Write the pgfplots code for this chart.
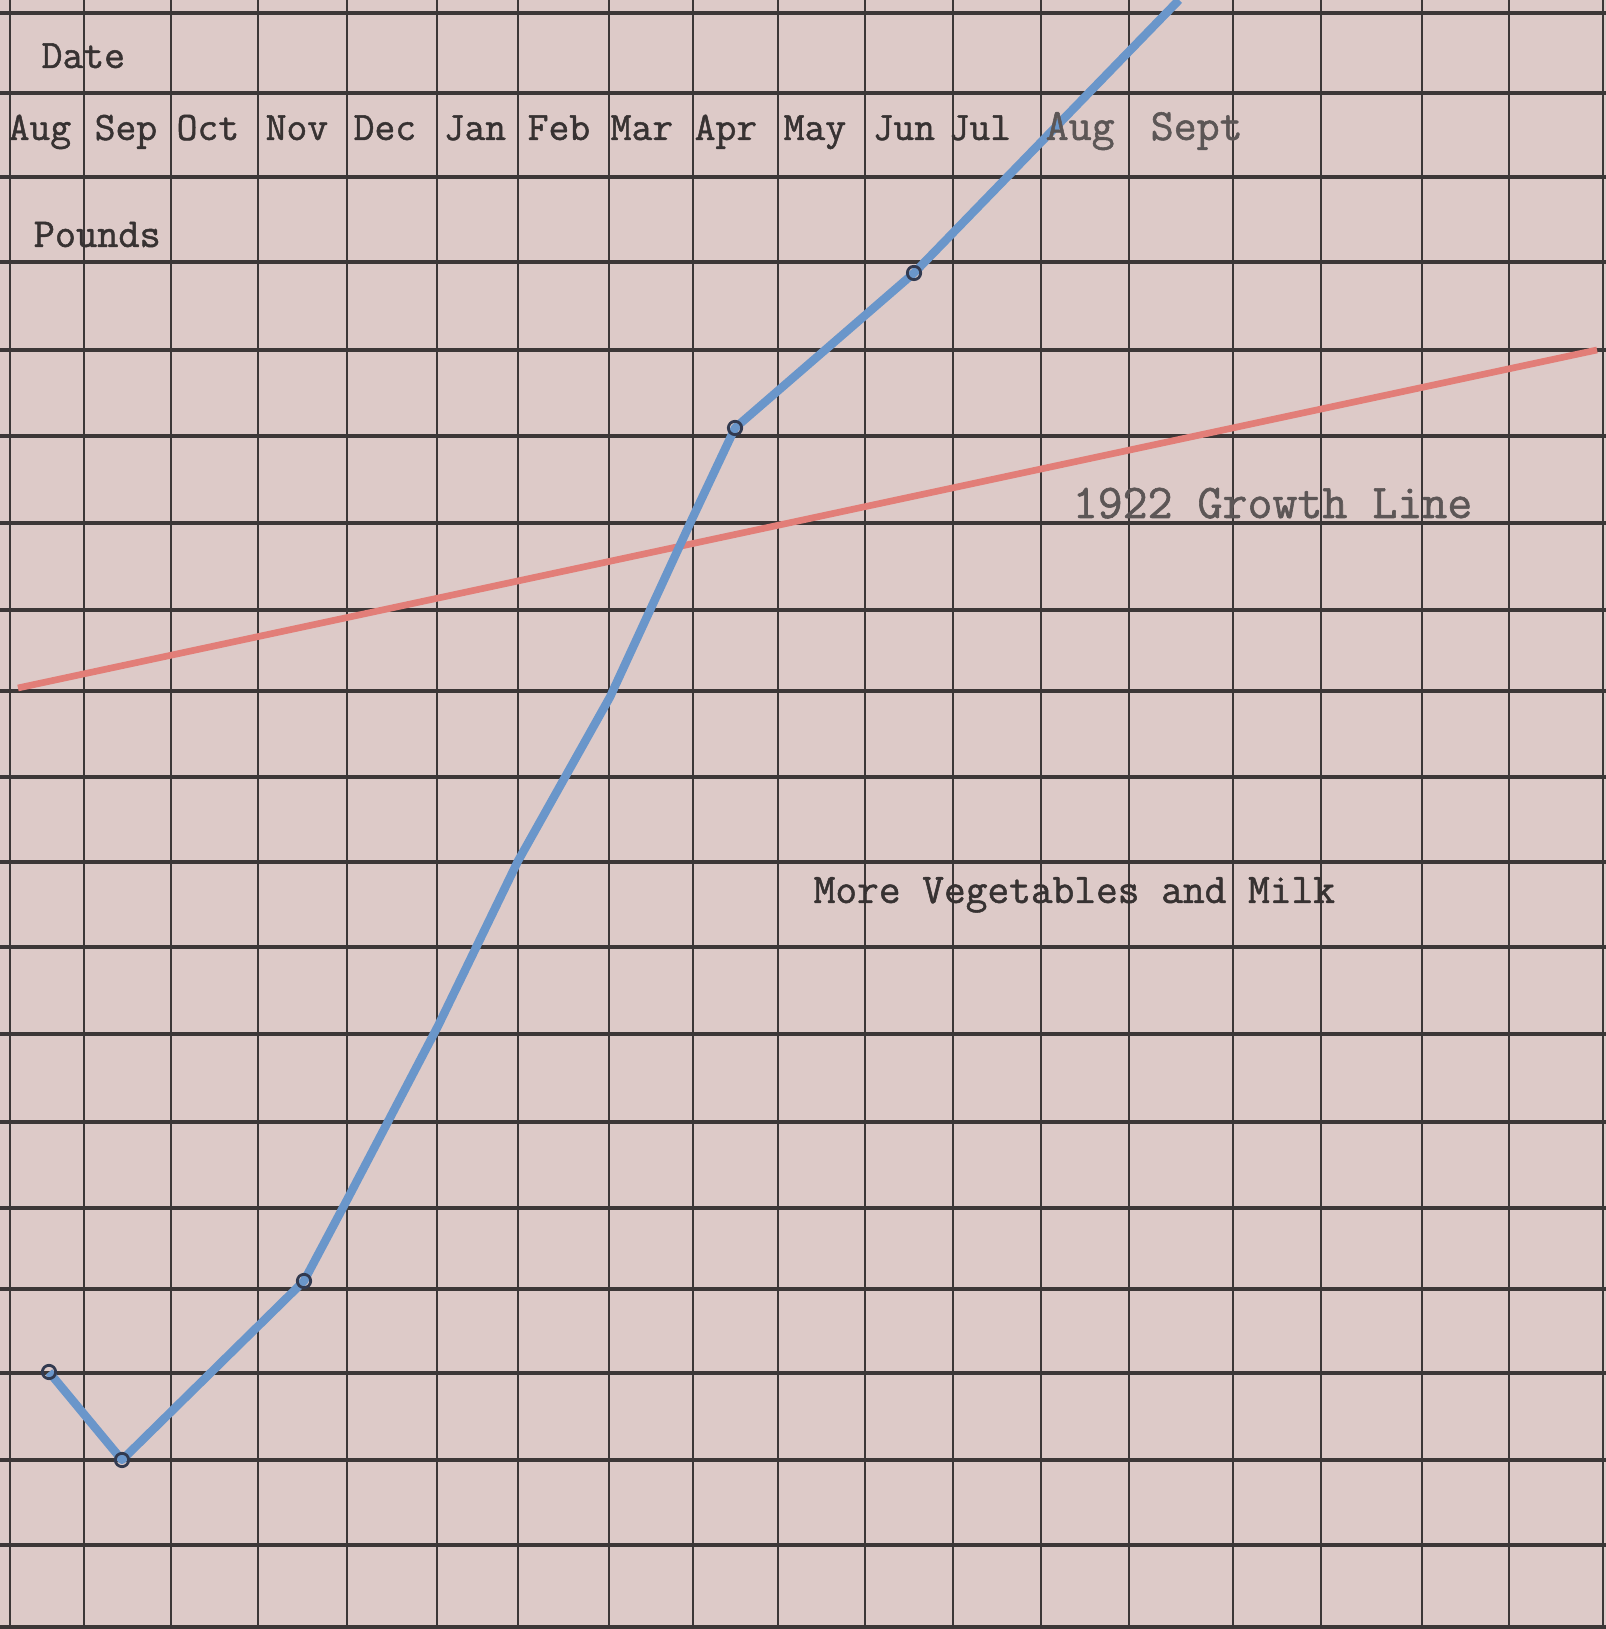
\documentclass[border=0pt]{standalone}
\usepackage{fontspec}
\usepackage{pgfplots}
\pgfplotsset{compat=1.18}
\setmonofont{Latin Modern Mono}[FakeBold=1.2]
\definecolor{paper}{RGB}{221,202,200}
\definecolor{gridc}{RGB}{60,55,55}
\definecolor{bluec}{RGB}{106,150,202}
\definecolor{redc}{RGB}{226,126,120}
\definecolor{markc}{RGB}{50,58,80}
\definecolor{txt}{RGB}{55,50,50}
\definecolor{txtl}{RGB}{92,86,86}
\begin{document}
\begin{tikzpicture}
\begin{axis}[
  width=16.06cm, height=16.29cm, scale only axis,
  xmin=0, xmax=1606, ymin=0, ymax=1629,
  axis line style={draw=none},
  tick style={draw=none},
  major tick length=0pt,
  xtick={10,84,171,258,347,437,518,609,693,778,865,953,1041,1129,1233,1321,1422,1509,1603},
  ytick={2,84,169,256,340,421,507,595,682,767,852,938,1019,1106,1193,1279,1367,1452,1536,1616},
  xticklabels={}, yticklabels={},
  xmajorgrids, ymajorgrids,
  major x grid style={gridc, line width=0.65pt},
  major y grid style={gridc, line width=1.1pt},
  axis background/.style={fill=paper},
]
% 1922 growth line (red)
\addplot[redc, line width=1.9pt] coordinates {(18,941) (1597,1279)};
% weight curve (blue)
\addplot[bluec, line width=2.4pt, line join=round, mark=o, mark indices={1,2,3,9,10},
  mark options={draw=markc, line width=0.8pt, mark size=1.9pt, fill=none}]
  coordinates {(49,257) (122,169) (304,348) (347,429) (438,603) (518,768)
               (610,932) (693,1112) (735,1201) (914,1356) (1179,1629)};
% texts
\tikzset{tl/.style={anchor=base west, inner sep=0pt, text=txt}}
\node[tl, font=\ttfamily\fontsize{11.5}{13}\selectfont] at (axis cs:41,1561) {Date};
\node[tl, font=\ttfamily\fontsize{11.7}{13}\selectfont] at (axis cs:33,1382) {Pounds};
\begin{scope}[every node/.style={tl, font=\ttfamily\fontsize{11.5}{13}\selectfont}]
\node at (axis cs:8,1489) {Aug};
\node at (axis cs:94,1489) {Sep};
\node at (axis cs:176,1489) {Oct};
\node at (axis cs:265,1489) {Nov};
\node at (axis cs:353,1489) {Dec};
\node at (axis cs:443,1489) {Jan};
\node at (axis cs:527,1489) {Feb};
\node at (axis cs:610,1489) {Mar};
\node at (axis cs:694,1489) {Apr};
\node at (axis cs:783,1489) {May};
\node at (axis cs:872,1489) {Jun};
\node at (axis cs:948,1489) {Jul};
\end{scope}
\node[tl, text=txtl, font=\ttfamily\fontsize{12.7}{14}\selectfont] at (axis cs:1045,1489) {Aug};
\node[tl, text=txtl, font=\ttfamily\fontsize{12.7}{14}\selectfont] at (axis cs:1150,1489) {Sept};
\node[tl, text=txtl, font=\ttfamily\fontsize{13.8}{16}\selectfont] at (axis cs:1072,1111) {1922 Growth Line};
\node[tl, font=\ttfamily\fontsize{12}{14}\selectfont] at (axis cs:813,726) {More Vegetables and Milk};
\end{axis}
\pgfresetboundingbox
\path (current axis.south west) rectangle (current axis.north east);
\end{tikzpicture}
\end{document}
